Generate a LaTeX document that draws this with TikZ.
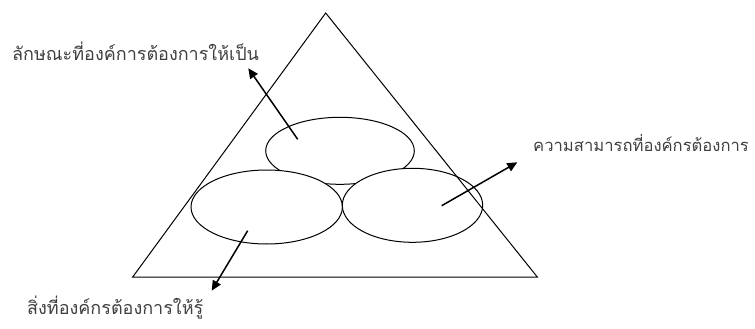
\documentclass[tikz,border=0pt]{standalone}
\usepackage{fontspec}
\newfontfamily\thaifont[Script=Thai]{Loma}
\usetikzlibrary{arrows.meta}
\begin{document}
\begin{tikzpicture}[x=1pt,y=-1pt,
  outl/.style={draw=black,line width=1pt},
  arr/.style={draw=black,line width=1.5pt,-{Triangle[length=10pt,width=9pt]}},
  lbl/.style={font=\thaifont\fontsize{18}{20}\selectfont,text=black!75,inner sep=0pt}]
\useasboundingbox (0,0) rectangle (755,329);
\draw[outl,fill=white] (340,150.8) ellipse [x radius=74.3, y radius=33.5];
\draw[outl,fill=white] (266.7,207) ellipse [x radius=75.7, y radius=37];
\draw[outl,fill=white] (412.5,205.3) ellipse [x radius=70.2, y radius=37];
\node[draw=none,inner sep=0pt] (apex) at (325.7,13) {};
\draw[outl] (apex.center) -- (537.3,277) -- (132.7,277) -- cycle;
\coordinate (a1s) at (297.7,139.3);
\coordinate (a1e) at (248.3,68.3);
\coordinate (a2s) at (441.7,205.7);
\coordinate (a2e) at (517.3,162.3);
\coordinate (a3s) at (247.7,230.7);
\coordinate (a3e) at (211.7,290.7);
\draw[arr] (a1s) -- (a1e);
\draw[arr] (a2s) -- (a2e);
\draw[arr] (a3s) -- (a3e);
\node[lbl,anchor=west] (t1) at (12,51) {ลักษณะที่องค์การต้องการให้เป็น};
\node[lbl,anchor=west,font=\thaifont\fontsize{16.6}{20}\selectfont] (t2) at (533,143) {ความสามารถที่องค์กรต้องการ};
\node[lbl,anchor=west] (t3) at (27,308) {สิ่งที่องค์กรต้องการให้รู้};
\end{tikzpicture}
\end{document}
